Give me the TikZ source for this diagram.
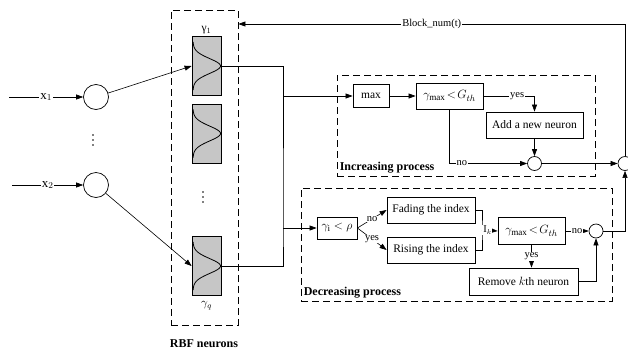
\documentclass[tikz,border=0pt]{standalone}
\usepackage{fontspec}
\setmainfont{Liberation Serif}
\usetikzlibrary{positioning, arrows.meta, calc}

\begin{document}
\begin{tikzpicture}[
  x=1pt, y=-1pt,
  font=\fontsize{11.5}{13}\selectfont,
  box/.style={draw, line width=0.8pt, inner sep=2pt, minimum height=26pt},
  mth/.style={font=\fontsize{13}{15}\selectfont},
  neuron/.style={circle, draw, line width=0.7pt, minimum size=25pt, inner sep=0pt},
  sum/.style={circle, draw, line width=0.7pt, minimum size=14pt, inner sep=0pt},
  dashbox/.style={draw, line width=0.8pt, dash pattern=on 7pt off 4pt, inner sep=0pt},
  rbf/.style={draw, line width=0.8pt, fill=gray!45, minimum width=29pt, minimum height=59pt, inner sep=0pt,
    path picture={\draw[line width=0.8pt, shift={(path picture bounding box.center)}, x=1pt, y=1pt]
      plot[domain=-24:24, samples=60, smooth] ({-13.5+27.5*exp(-(\x/10.5)^2)}, \x);}},
  arr/.style={line width=0.6pt, -{Triangle[length=7pt, width=5pt]}},
  line/.style={line width=0.6pt},
  lab/.style={fill=white, inner sep=0.8pt, font=\fontsize{10.5}{12}\selectfont},
  title/.style={font=\fontsize{12}{14}\selectfont\bfseries, inner sep=3pt},
  dot/.style={circle, fill, inner sep=0pt, minimum size=1.8pt},
]
  \useasboundingbox (0,0) rectangle (628,351);

  % input layer
  \node[neuron] (in1) at (96,97) {};
  \node[neuron] (in2) at (96,185) {};
  \foreach \y in {135,140,145} \node[dot] at (93,\y) {};
  \coordinate (x1) at (9,97);
  \coordinate (x2) at (12,185);
  \draw[arr] (x1) -- node[lab, font=\fontsize{13}{15}\selectfont]{x$_1$} (in1);
  \draw[arr] (x2) -- node[lab, font=\fontsize{13}{15}\selectfont]{x$_2$} (in2);

  % RBF neurons
  \node[dashbox, minimum width=67pt, minimum height=315pt] (rbfbox) at (204.5,167.5) {};
  \node[rbf] (r1) at (206.5,66) {};
  \node[rbf] (r2) at (206.5,133.5) {};
  \node[rbf] (rq) at (206.5,266) {};
  \node[above=1pt of r1, inner sep=1pt] {γ$_1$};
  \node[below=4pt of rq, inner sep=1pt] {$\gamma_q$};
  \foreach \y in {192,197,202} \node[dot] at (203,\y) {};
  \node[title] at (204,344) {RBF neurons};

  \draw[arr] (in1) -- (r1.west);
  \draw[arr] (in2) -- (rq.west);
  \coordinate (jn) at (283,96);
  \coordinate (jd) at (283,228);
  \draw[line] (r1.east) -| (jd) |- (rq.east);

  % increasing process
  \node[dashbox, minimum width=258pt, minimum height=101pt] (incbox) at (466,125.5) {};
  \node[title, anchor=south west] at (incbox.south west) {Increasing process};
  \node[box, minimum width=36pt, minimum height=23pt] (max) at (371,96) {max};
  \node[box, mth, minimum width=67pt] (thr1) at (449.5,96) {$\gamma_{\max}\!<\!G_{th}$};
  \node[box, minimum width=97pt] (add) at (534.5,125) {Add a new neuron};
  \node[sum] (s1) at (534.5,163.5) {};
  \node[sum] (out) at (625,163.5) {};

  \draw[arr] (jn) -- (max);
  \draw[arr] (max) -- (thr1);
  \draw[arr] (thr1.east) -| node[lab, pos=0.33]{yes} (add.north);
  \draw[arr] (thr1.south) |- node[lab, pos=0.58]{no} (s1.west);
  \draw[arr] (add) -- (s1);
  \draw[arr] (s1) -- (out);

  % decreasing process
  \node[dashbox, minimum width=311pt, minimum height=113pt] (decbox) at (456.5,244.5) {};
  \node[title, anchor=south west] at (decbox.south west) {Decreasing process};
  \node[box, mth, minimum width=40pt, minimum height=22pt, inner sep=1pt] (rho) at (337,228) {$\gamma_{\mathrm{i}}<\rho$};
  \node[box, minimum width=88pt] (fade) at (431,210) {Fading the index};
  \node[box, minimum width=88pt] (rise) at (431,250) {Rising the index};
  \coordinate (br) at (482,230);
  \node[box, mth, minimum width=67pt, minimum height=27pt] (thr2) at (531.5,231) {$\gamma_{\max}\!<\!G_{th}$};
  \node[sum] (s2) at (596,231) {};
  \node[box, minimum width=109pt, minimum height=27pt] (rem) at (523.5,281.5) {Remove $k$th neuron};

  \draw[arr] (jd) -- (rho);
  \draw[arr] (rho.east) -- node[lab, pos=0.5]{no} (fade.west);
  \draw[arr] (rho.east) -- node[lab, pos=0.5]{yes} (rise.west);
  \draw[line] (fade.east) -| (br) |- (rise.east);
  \draw[arr] (br) -- node[lab, pos=0.35]{I$_k$} (thr2.west);
  \draw[arr] (thr2) -- node[lab]{no} (s2);
  \draw[arr] (thr2.south) -- node[lab]{yes} (thr2.south |- rem.north);
  \draw[arr] (rem.east) -| (s2.south);
  \draw[arr] (s2.east) -| (out.south);

  % feedback
  \coordinate (fb) at (625,24);
  \draw[arr] (out.north) -- (fb) -- node[lab]{Block\_num(t)} (fb -| rbfbox.east);
\end{tikzpicture}
\end{document}
